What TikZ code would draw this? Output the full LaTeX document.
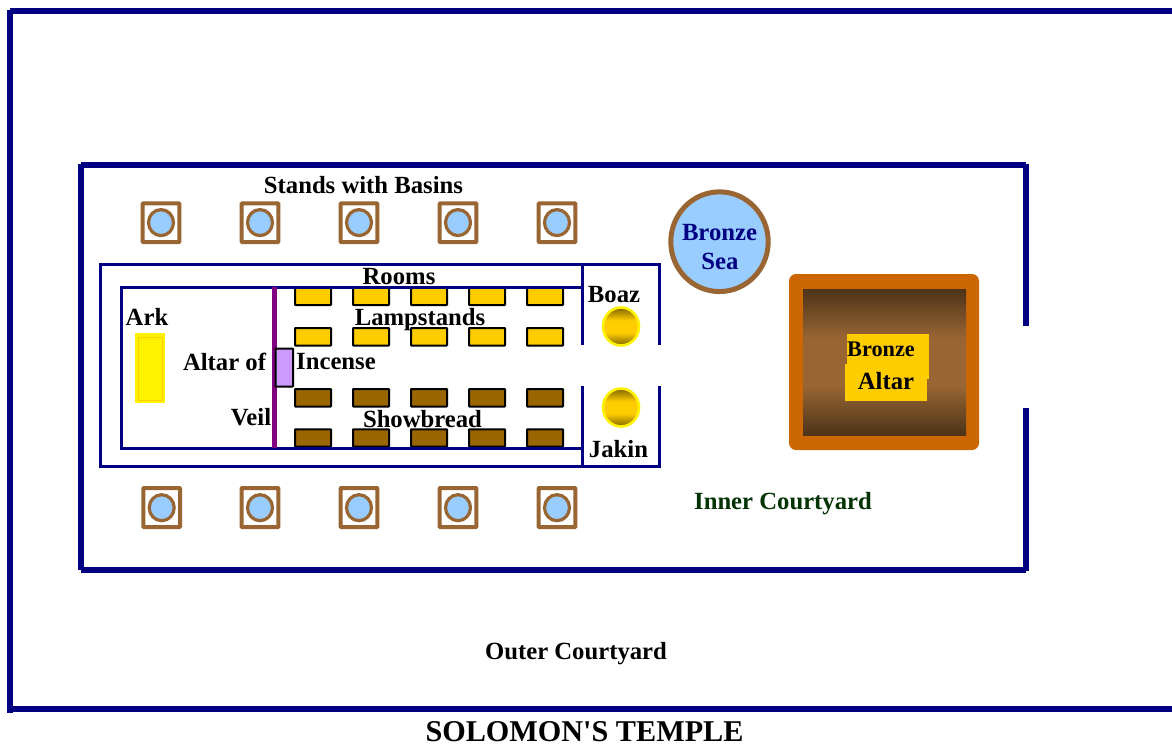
\documentclass[tikz,border=0pt]{standalone}
\usepackage{fontspec}
\usetikzlibrary{shapes.geometric}
\setmainfont{Liberation Serif}
\newfontfamily\plainserif{Liberation Serif}
\definecolor{navyw}{HTML}{000080}
\definecolor{brownl}{HTML}{996633}
\definecolor{skyb}{HTML}{99CCFF}
\definecolor{golde}{HTML}{FFCC00}
\definecolor{darkbr}{HTML}{996600}
\definecolor{orng}{HTML}{CC6600}
\definecolor{altdark}{HTML}{4D3319}
\definecolor{pillard}{HTML}{806600}
\definecolor{lilac}{HTML}{CC99FF}
\definecolor{veilp}{HTML}{800080}
\definecolor{greent}{HTML}{003300}
\pgfdeclareverticalshading{altarband}{100bp}{color(0bp)=(altdark);color(25bp)=(altdark);color(42bp)=(brownl);color(58bp)=(brownl);color(75bp)=(altdark);color(100bp)=(altdark)}
\pgfdeclareverticalshading{pillarband}{100bp}{color(0bp)=(pillard);color(25bp)=(pillard);color(42bp)=(golde);color(58bp)=(golde);color(75bp)=(pillard);color(100bp)=(pillard)}
\tikzset{
  wallthick/.style={draw=navyw,line width=6pt,line cap=butt},
  wallthin/.style={draw=navyw,line width=3pt,line cap=butt,line join=miter},
  standbox/.style={draw=brownl,line width=4pt,rounded corners=0.6pt,fill=white},
  basin/.style={ellipse,draw=brownl,line width=3.2pt,fill=skyb,minimum width=25pt,minimum height=26pt,inner sep=0pt},
  lamp/.style={draw=black,line width=2pt,fill=golde,rounded corners=0.5pt},
  bread/.style={draw=black,line width=2pt,fill=darkbr,rounded corners=0.5pt},
  pillar/.style={ellipse,draw=yellow,line width=2.6pt,minimum width=36pt,minimum height=38pt,inner sep=0pt,shading=pillarband},
  lbl/.style={anchor=base,inner sep=0pt,font=\fontsize{24.7}{25}\selectfont\bfseries,text=black},
}
\begin{document}
\begin{tikzpicture}[x=1pt,y=-1pt]
\useasboundingbox (0,0) rectangle (1172,745);
\fill[white] (0,0) rectangle (1172,745);
% outer courtyard wall
\draw[wallthick] (1172,11) -- (10,11);
\draw[wallthick] (10,10) -- (10,713);
\draw[wallthick] (10,709) -- (1172,709);
% stands
\foreach \i/\x in {1/161,2/260,3/359,4/458,5/557}{
  \draw[standbox] (\x-18.3,203.3) rectangle (\x+18.3,242);
  \node[basin] (topbasin\i) at (\x,222.6) {};
}
\foreach \i/\x in {1/161.7,2/260,3/359,4/458,5/557}{
  \draw[standbox] (\x-18.3,488) rectangle (\x+18.3,527);
  \node[basin] (botbasin\i) at (\x,507.7) {};
}
% lampstands and showbread
\foreach \x in {295,353,411,469,527}{
  \draw[lamp] (\x,285) rectangle (\x+36,305);
  \draw[lamp] (\x,328) rectangle (\x+36,345.5);
  \draw[bread] (\x,389) rectangle (\x+36,406.5);
  \draw[bread] (\x,429.3) rectangle (\x+36,446.5);
}
\fill[white] (290,280) rectangle (570,285.8);
% temple walls
\draw[wallthin] (659.5,345) -- (659.5,264) -- (100.8,264) -- (100.8,466.5) -- (659.5,466.5) -- (659.5,386);
\draw[wallthin] (582,345) -- (582,264);
\draw[wallthin] (582,386) -- (582,466.5);
\draw[wallthin] (582,287) -- (121,287) -- (121,448.3) -- (582,448.3);
% inner courtyard wall
\draw[wallthick] (81,164) -- (81,570);
\draw[wallthick] (81,165) -- (1026,165);
\draw[wallthick] (1026,164) -- (1026,326);
\draw[wallthick] (81,570) -- (1026,570);
\draw[wallthick] (1026,408) -- (1026,571);
% veil
\draw[draw=veilp,line width=5pt] (274.5,287) -- (274.5,448);
% altar of incense
\draw[draw=black,line width=2pt,fill=lilac,rounded corners=0.5pt] (275.5,348.5) rectangle (293,386.5);
% ark
\fill[yellow] (135,333) rectangle (165,403);
\draw[draw=golde,line width=1pt] (138.5,337) rectangle (162.5,400);
% pillars
\node[pillar] (boazp) at (621,326.5) {};
\node[pillar] (jakinp) at (621,407.5) {};
% bronze sea
\node[ellipse,draw=brownl,line width=5pt,fill=skyb,minimum width=97.4pt,minimum height=99.7pt,inner sep=0pt] (sea) at (719.5,241.7) {};
% bronze altar
\fill[orng,rounded corners=7pt] (789,274) rectangle (979,450);
\shade[shading=altarband] (803,289) rectangle (966,435);
\fill[golde] (847,334) rectangle (929,379);
\fill[golde] (845,364) rectangle (927,401);
% labels
\node[lbl] (tstands) at (363.5,193) {Stands with Basins};
\node[lbl] (trooms) at (399,284) {Rooms};
\node[lbl] (tark) at (147,325) {Ark};
\node[lbl] (tlamp) at (420,325) {Lampstands};
\node[lbl] (taltarof) at (224.5,370) {Altar of};
\node[lbl] (tincense) at (336,369) {Incense};
\node[lbl] (tveil) at (251,425) {Veil};
\node[lbl] (tbread) at (422.5,427) {Showbread};
\node[lbl] (tboaz) at (614,302) {Boaz};
\node[lbl] (tjakin) at (618.5,457) {Jakin};
\node[lbl,text=navyw] (tsea1) at (719.5,240) {Bronze};
\node[lbl,text=navyw] (tsea2) at (720,269) {Sea};
\node[lbl,font=\fontsize{22.3}{23}\selectfont\bfseries] (talt1) at (881,356) {Bronze};
\node[lbl] (talt2) at (886,389) {Altar};
\node[lbl,text=greent] (tinner) at (783,509) {Inner Courtyard};
\node[lbl] (touter) at (576,659) {Outer Courtyard};
\node[lbl,font=\fontsize{30.2}{31}\plainserif\bfseries] (ttitle) at (584.5,741.5) {SOLOMON'S TEMPLE};
\end{tikzpicture}
\end{document}
